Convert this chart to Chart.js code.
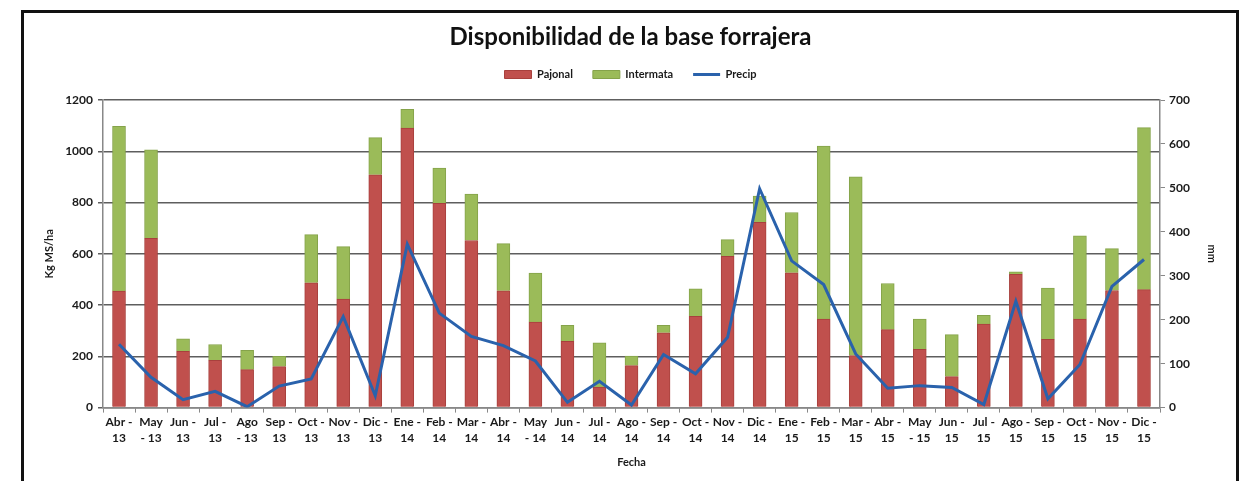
<!DOCTYPE html>
<html>
<head>
<meta charset="utf-8">
<script src="https://cdn.jsdelivr.net/npm/chart.js@4"></script>
<style>
  body { margin: 0; background: #fff; }
  #wrap { position: relative; width: 1249px; height: 481px; overflow: hidden; }
  #frame { position: absolute; left: 21px; top: 10px; width: 1212px; height: 490px; border: 3px solid #111; }
  canvas { position: absolute; left: 0; top: 0; }
</style>
</head>
<body>
<div id="wrap">
  <canvas id="chart" width="1249" height="481"></canvas>
  <div id="frame"></div>
</div>
<script>
var meses = [
  ["Abr -", "13"], ["May", "- 13"], ["Jun -", "13"], ["Jul -", "13"], ["Ago", "- 13"], ["Sep -", "13"],
  ["Oct -", "13"], ["Nov -", "13"], ["Dic -", "13"], ["Ene -", "14"], ["Feb -", "14"], ["Mar -", "14"],
  ["Abr -", "14"], ["May", "- 14"], ["Jun -", "14"], ["Jul -", "14"], ["Ago -", "14"], ["Sep -", "14"],
  ["Oct -", "14"], ["Nov -", "14"], ["Dic -", "14"], ["Ene -", "15"], ["Feb -", "15"], ["Mar -", "15"],
  ["Abr -", "15"], ["May", "- 15"], ["Jun -", "15"], ["Jul -", "15"], ["Ago -", "15"], ["Sep -", "15"],
  ["Oct -", "15"], ["Nov -", "15"], ["Dic -", "15"]
];

// Kg MS/ha
var pajonal = [455, 660, 220, 184, 148, 160, 487, 423, 908, 1090, 797, 652, 456, 334, 259, 80, 164,
  292, 356, 590, 723, 526, 345, 203, 304, 227, 121, 326, 520, 266, 345, 457, 460];
var intermata = [642, 346, 48, 62, 75, 40, 188, 205, 145, 74, 137, 181, 184, 191, 62, 173, 37,
  29, 107, 65, 102, 235, 675, 697, 180, 118, 164, 34, 10, 200, 325, 163, 632];

// mm
var precip = [144, 69, 18, 37, 2, 49, 65, 207, 27, 372, 215, 162, 141, 106, 12, 60, 6,
  121, 77, 160, 498, 334, 280, 122, 44, 50, 46, 7, 242, 20, 98, 276, 337];

var yTicks = [0, 200, 400, 600, 800, 1000, 1200];
var y1Ticks = [0, 100, 200, 300, 400, 500, 600, 700];

var fuente = "Lato, 'Open Sans', sans-serif";
var texto = "#1a1a1a";

// a bit more room under the legend
var legendSpace = {
  id: "legendSpace",
  beforeInit: function (chart) {
    var fit = chart.legend.fit;
    chart.legend.fit = function () {
      fit.bind(chart.legend)();
      this.height += 10;
    };
  },
};

var ctx = document.getElementById("chart");
var myChart = new Chart(ctx, {
  type: "bar",
  data: {
    labels: meses,
    datasets: [
      {
        label: "Pajonal",
        data: pajonal,
        backgroundColor: "#C0504D",
        borderColor: "#A8403D",
        borderWidth: 1,
        barThickness: 13,
        pointStyle: "rect",
        yAxisID: "y",
        order: 1,
      },
      {
        label: "Intermata",
        data: intermata,
        backgroundColor: "#9BBB59",
        borderColor: "#85A34A",
        borderWidth: 1,
        barThickness: 13,
        pointStyle: "rect",
        yAxisID: "y",
        order: 1,
      },
      {
        type: "line",
        label: "Precip",
        data: precip,
        borderColor: "#2A62AC",
        backgroundColor: "#2A62AC",
        borderWidth: 3,
        pointRadius: 0,
        pointStyle: "line",
        tension: 0,
        yAxisID: "y1",
        order: 0,
      },
    ],
  },
  plugins: [legendSpace],
  options: {
    responsive: false,
    animation: false,
    layout: { padding: { left: 43, right: 31, top: 22, bottom: 12 } },
    plugins: {
      title: {
        display: true,
        text: "Disponibilidad de la base forrajera",
        color: "#111",
        font: { family: fuente, size: 24, weight: "bold", lineHeight: 1 },
        padding: { top: 3, bottom: 0 },
      },
      legend: {
        labels: {
          usePointStyle: true,
          pointStyleWidth: 27,
          boxHeight: 8,
          color: texto,
          font: { family: fuente, size: 11, weight: "bold" },
          padding: 20,
          sort: function (a, b) { return a.datasetIndex - b.datasetIndex; },
        },
      },
      tooltip: { enabled: false },
    },
    scales: {
      x: {
        stacked: true,
        grid: { display: true, drawOnChartArea: false, offset: true, tickLength: 5, color: "#888" },
        border: { color: "#888", width: 1.5 },
        ticks: {
          color: texto,
          maxRotation: 0,
          autoSkip: false,
          padding: 2,
          font: { family: fuente, size: 12, weight: "bold", lineHeight: 1.3 },
        },
        title: {
          display: true,
          text: "Fecha",
          color: texto,
          font: { family: fuente, size: 11, weight: "bold" },
          padding: { top: 8, bottom: 0 },
        },
      },
      y: {
        stacked: true,
        position: "left",
        min: 0,
        max: 1200,
        afterBuildTicks: function (s) { s.ticks = yTicks.map(function (v) { return { value: v }; }); },
        grid: { color: "#5e5e5e", lineWidth: 1.5, tickLength: 5 },
        border: { color: "#888", width: 1.5 },
        ticks: {
          color: texto,
          padding: 5,
          font: { family: fuente, size: 12, weight: "bold" },
          callback: function (v) { return String(v); },
        },
        title: {
          display: true,
          text: "Kg MS/ha",
          color: texto,
          font: { family: fuente, size: 11, weight: "bold" },
          padding: 0,
        },
        afterFit: function (s) { s.width = 60; },
      },
      y1: {
        position: "right",
        min: 0,
        max: 700,
        afterBuildTicks: function (s) { s.ticks = y1Ticks.map(function (v) { return { value: v }; }); },
        grid: { drawOnChartArea: false, tickLength: 5, color: "#888" },
        border: { color: "#888", width: 1.5 },
        ticks: {
          color: texto,
          padding: 4,
          font: { family: fuente, size: 12, weight: "bold" },
          callback: function (v) { return String(v); },
        },
        title: {
          display: true,
          text: "mm",
          color: texto,
          font: { family: fuente, size: 11, weight: "bold" },
          padding: 0,
        },
        afterFit: function (s) { s.width = 58; },
      },
    },
  },
});
</script>
</body>
</html>
